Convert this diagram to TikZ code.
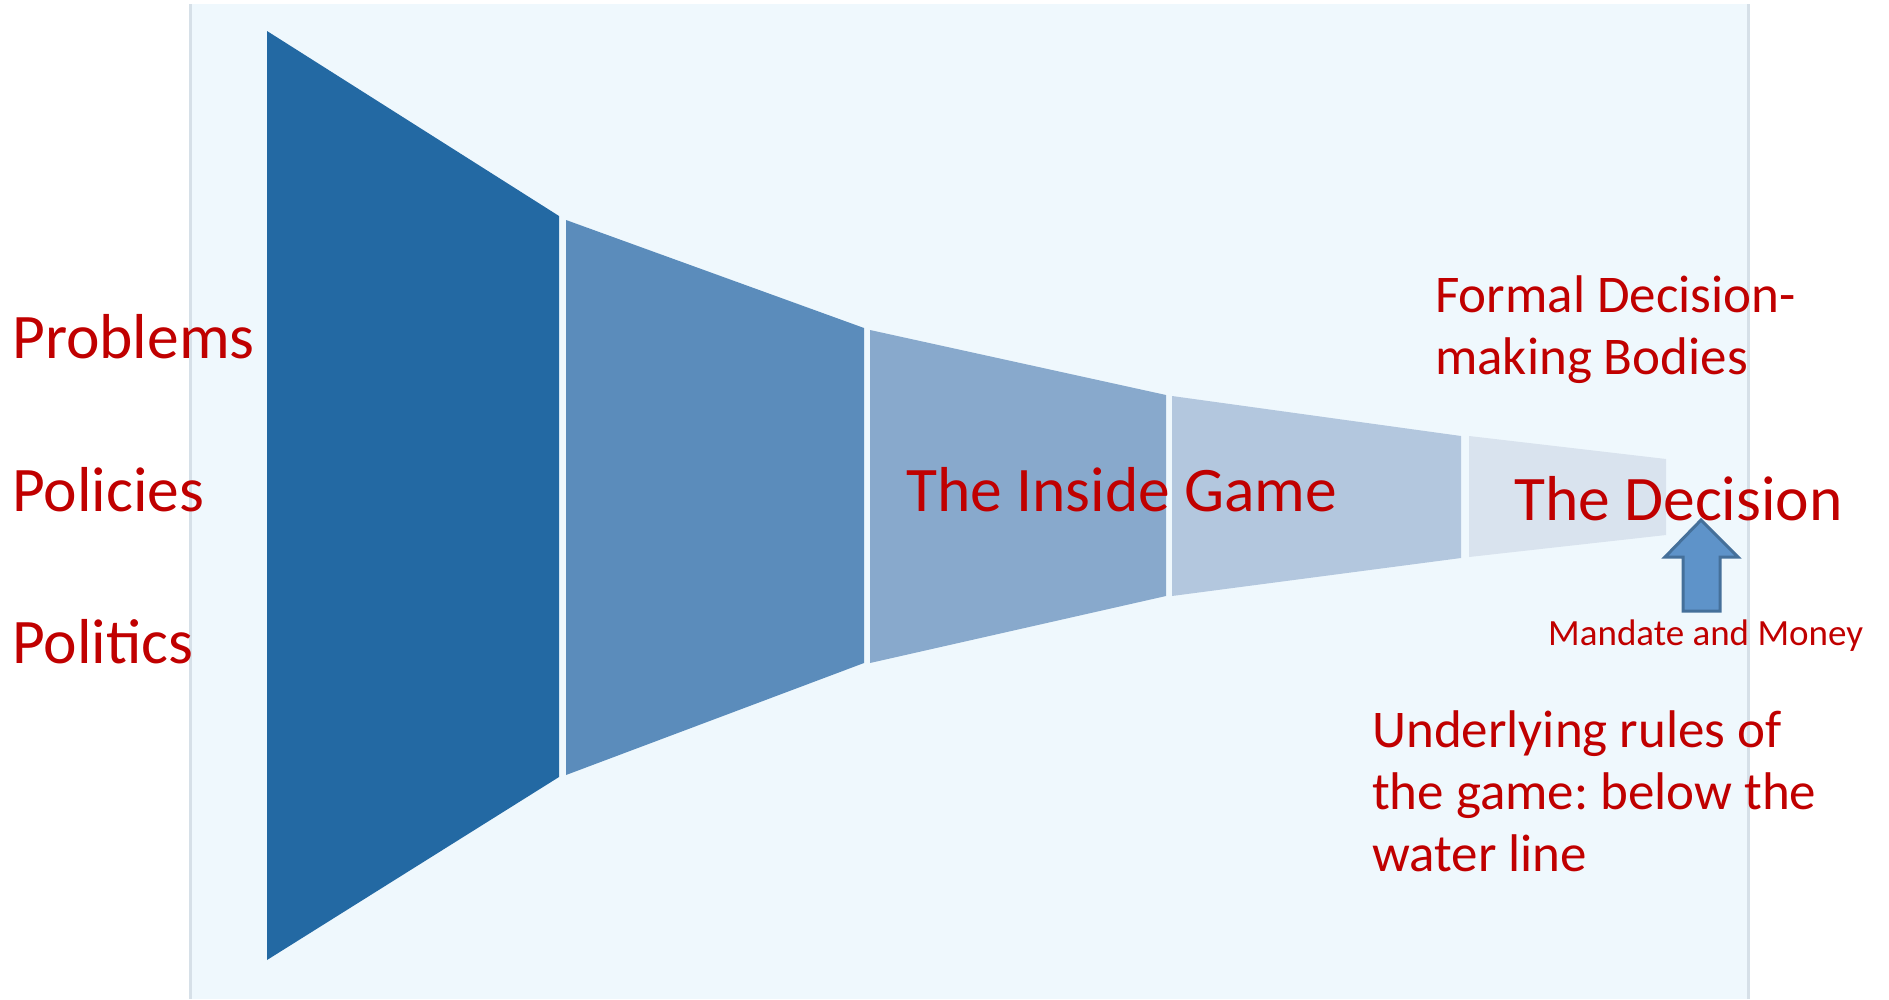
\documentclass[tikz,border=0pt]{standalone}
\usepackage{fontspec}
\setmainfont{Carlito}
\usepackage{xcolor}
\usepackage{tikz}

\definecolor{gamered}{HTML}{C00000}
\definecolor{panelblue}{HTML}{EFF8FD}
\definecolor{panelline}{HTML}{D6E0E8}
\definecolor{funnelA}{HTML}{2369A3}
\definecolor{funnelB}{HTML}{5B8CBB}
\definecolor{funnelC}{HTML}{88A9CC}
\definecolor{funnelD}{HTML}{B3C7DE}
\definecolor{funnelE}{HTML}{D9E3EE}
\definecolor{arrowfill}{HTML}{5E93C9}
\definecolor{arrowline}{HTML}{45709A}

\tikzset{
    gametext/.style={text=gamered, inner sep=0pt, anchor=base west, align=left},
    bigtext/.style={gametext, font=\fontsize{63.5}{76}\selectfont},
    midtext/.style={gametext, font=\fontsize{53}{62}\selectfont},
    smalltext/.style={gametext, font=\fontsize{37}{44}\selectfont},
}

\begin{document}
\frenchspacing
\begin{tikzpicture}[x=1pt, y=-1pt]

    \useasboundingbox (0,0) rectangle (1889,999);

    % the water
    \fill[panelblue] (190,4) rectangle (1748,999);
    \draw[panelline, line width=3pt] (190,4) -- (190,999);
    \draw[panelline, line width=3pt] (1748,4) -- (1748,999);

    % the funnel, widest part first
    \fill[funnelA] (267,31) -- (559,216) -- (559,777) -- (267,960) -- cycle;
    \fill[funnelB] (566,220) -- (864,328) -- (864,663) -- (566,775) -- cycle;
    \fill[funnelC] (870,330) -- (1166,395) -- (1166,596) -- (870,663) -- cycle;
    \fill[funnelD] (1172,396) -- (1461,436) -- (1461,558) -- (1172,596) -- cycle;
    \fill[funnelE] (1469,436) -- (1666,459) -- (1666,535) -- (1469,557) -- cycle;

    % the three streams
    \node[bigtext] (problems) at (12,358) {Problems};
    \node[bigtext] (policies) at (12,511) {Policies};
    \node[bigtext] (politics) at (12,663) {Politics};

    \node[bigtext] (insidegame) at (906,511) {The Inside Game};
    \node[bigtext] (decision) at (1514,520) {The Decision};

    % base of a two-line node sits under its last line
    \node[midtext] (bodies) at (1435,374) {Formal Decision-\\making Bodies};

    % block arrow up to the decision
    \filldraw[arrowfill, draw=arrowline, line width=3pt, line join=miter]
        (1683,611) -- (1683,557) -- (1665,557) -- (1701,520)
        -- (1738,557) -- (1720,557) -- (1720,611) -- cycle;
    \node[smalltext] (mandate) at (1548,645) {Mandate and Money};

    \node[midtext] (rules) at (1372,871) {Underlying rules of\\the game: below the\\water line};

\end{tikzpicture}
\end{document}
